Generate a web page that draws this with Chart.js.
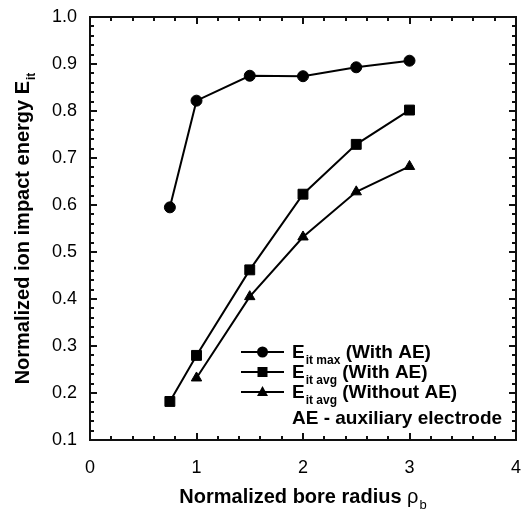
<!DOCTYPE html>
<html>
<head>
<meta charset="utf-8">
<script src="https://cdn.jsdelivr.net/npm/chart.js@4/dist/chart.umd.min.js"></script>
<style>
  html, body { margin: 0; padding: 0; background: #fff; }
</style>
</head>
<body>
<canvas id="chart" width="524" height="511"></canvas>
<script>
// ─── DATA ───────────────────────────────────────────
const radiusMaxWithAE    = [0.75, 1, 1.5, 2, 2.5, 3];
const energyMaxWithAE    = [0.595, 0.822, 0.875, 0.874, 0.893, 0.907];

const radiusAvgWithAE    = [0.75, 1, 1.5, 2, 2.5, 3];
const energyAvgWithAE    = [0.182, 0.280, 0.462, 0.623, 0.729, 0.802];

const radiusAvgWithoutAE = [1, 1.5, 2, 2.5, 3];
const energyAvgWithoutAE = [0.232, 0.405, 0.532, 0.628, 0.682];

const X_MIN = 0, X_MAX = 4, X_STEP = 1, X_MINOR = 0.2;
const Y_MIN = 0.1, Y_MAX = 1.0, Y_STEP = 0.1, Y_MINOR = 0.02;

const FONT = "'Liberation Sans', Arial, sans-serif";
const INK = '#101010';

const toPoints = (xs, ys) => xs.map((x, i) => ({ x, y: ys[i] }));

// ─── FRAME + INWARD TICKS ───────────────────────────
function drawFrame(chart) {
  const ctx = chart.ctx;
  const a = chart.chartArea;
  const xs = chart.scales.x, ys = chart.scales.y;
  ctx.save();
  ctx.globalAlpha = 1;
  ctx.globalCompositeOperation = 'source-over';
  ctx.fillStyle = INK;
  const n = Math.round((X_MAX - X_MIN) / X_MINOR);
  const nEvery = Math.round(X_STEP / X_MINOR);
  for (let i = 0; i <= n; i++) {
    const px = Math.round(xs.getPixelForValue(X_MIN + i * X_MINOR));
    const len = (i % nEvery === 0) ? 7 : 4;
    ctx.fillRect(px - 1, a.bottom - len, 2, len);
    ctx.fillRect(px - 1, a.top, 2, len);
  }
  const m = Math.round((Y_MAX - Y_MIN) / Y_MINOR);
  const mEvery = Math.round(Y_STEP / Y_MINOR);
  for (let i = 0; i <= m; i++) {
    const py = Math.round(ys.getPixelForValue(Y_MIN + i * Y_MINOR));
    const len = (i % mEvery === 0) ? 7 : 4;
    ctx.fillRect(a.left, py - 1, len, 2);
    ctx.fillRect(a.right - len, py - 1, len, 2);
  }
  const w = a.right - a.left, h = a.bottom - a.top;
  ctx.fillRect(a.left - 1, a.top - 1, w + 2, 2);
  ctx.fillRect(a.left - 1, a.bottom - 1, w + 2, 2);
  ctx.fillRect(a.left - 1, a.top - 1, 2, h + 2);
  ctx.fillRect(a.right - 1, a.top - 1, 2, h + 2);
  ctx.restore();
}

// text with subscript: main, sub, rest
function drawSubText(ctx, x, y, main, sub, rest, size) {
  const subSize = Math.round(size * 0.62);
  ctx.font = `bold ${size}px ${FONT}`;
  ctx.fillText(main, x, y);
  let w = ctx.measureText(main).width + 1;
  ctx.font = `bold ${subSize}px ${FONT}`;
  ctx.fillText(sub, x + w, y + size * 0.32);
  w += ctx.measureText(sub).width;
  if (rest) {
    ctx.font = `bold ${size}px ${FONT}`;
    ctx.fillText(' ' + rest, x + w, y);
  }
}

// small marker for the legend, same look as the chart points
function drawMarker(ctx, style, x, y) {
  ctx.beginPath();
  if (style === 'circle') {
    ctx.arc(x, y, 5.5, 0, Math.PI * 2);
  } else if (style === 'rect') {
    ctx.rect(x - 5, y - 5, 10, 10);
  } else {
    ctx.moveTo(x, y - 6);
    ctx.lineTo(x + 5.5, y + 4);
    ctx.lineTo(x - 5.5, y + 4);
    ctx.closePath();
  }
  ctx.fill();
}

// ─── TITLES + LEGEND ────────────────────────────────
function drawAnnotations(chart) {
  const ctx = chart.ctx;
  const a = chart.chartArea;
  ctx.save();
  ctx.fillStyle = '#000000';
  ctx.textBaseline = 'alphabetic';
  ctx.textAlign = 'left';

  // x title
  ctx.font = `bold 20px ${FONT}`;
  const t1 = 'Normalized bore radius ';
  const w1 = ctx.measureText(t1).width;
  ctx.font = `20px ${FONT}`;
  const wRho = ctx.measureText('\u03c1').width;
  ctx.font = `13px ${FONT}`;
  const wB = ctx.measureText('b').width;
  const sx = (a.left + a.right) / 2 - (w1 + wRho + wB + 1) / 2;
  ctx.font = `bold 20px ${FONT}`;
  ctx.fillText(t1, sx, 503);
  ctx.font = `20px ${FONT}`;
  ctx.fillText('\u03c1', sx + w1, 503);
  ctx.font = `13px ${FONT}`;
  ctx.fillText('b', sx + w1 + wRho + 1, 509);

  // y title
  ctx.save();
  ctx.translate(22, (a.top + a.bottom) / 2);
  ctx.rotate(-Math.PI / 2);
  ctx.font = `bold 20px ${FONT}`;
  const t2 = 'Normalized ion impact energy E';
  const w2 = ctx.measureText(t2).width;
  ctx.font = `bold 12px ${FONT}`;
  const wIt = ctx.measureText('it').width;
  drawSubText(ctx, -(w2 + wIt + 1) / 2, 7, t2, 'it', '', 20);
  ctx.restore();

  // legend
  const items = [
    { style: 'circle',   sub: 'it max', rest: '(With AE)' },
    { style: 'rect',     sub: 'it avg', rest: '(With AE)' },
    { style: 'triangle', sub: 'it avg', rest: '(Without AE)' },
  ];
  const lx0 = 241, lx1 = 284, tx = 292;
  const rows = [352, 372, 392];
  items.forEach((it, i) => {
    const yy = rows[i];
    ctx.fillRect(lx0, yy - 1, lx1 - lx0, 2);
    drawMarker(ctx, it.style, (lx0 + lx1) / 2, yy);
    drawSubText(ctx, tx, yy + 6, 'E', it.sub, it.rest, 19);
  });
  ctx.font = `bold 19px ${FONT}`;
  ctx.fillText('AE - auxiliary electrode', tx, 424);
  ctx.restore();
}

// ─── CHART ──────────────────────────────────────────
const lineStyle = (style, r) => ({
  borderColor: '#000', backgroundColor: '#000', borderWidth: 2,
  pointStyle: style, pointRadius: r, pointHoverRadius: r,
  pointBorderColor: '#000', pointBackgroundColor: '#000', pointBorderWidth: 1,
  tension: 0, fill: false,
});

const chart = new Chart(document.getElementById('chart'), {
  type: 'line',
  data: {
    datasets: [
      { label: 'Eit max (With AE)',    data: toPoints(radiusMaxWithAE, energyMaxWithAE),       ...lineStyle('circle', 5.5) },
      { label: 'Eit avg (With AE)',    data: toPoints(radiusAvgWithAE, energyAvgWithAE),       ...lineStyle('rect', 7) },
      { label: 'Eit avg (Without AE)', data: toPoints(radiusAvgWithoutAE, energyAvgWithoutAE), ...lineStyle('triangle', 6) },
    ]
  },
  options: {
    responsive: false, animation: false, devicePixelRatio: 1,
    layout: { padding: { top: 17, right: 7, left: 0, bottom: 0 } },
    plugins: { legend: { display: false }, tooltip: { enabled: false } },
    scales: {
      x: { type: 'linear', min: X_MIN, max: X_MAX,
           grid: { display: false, drawTicks: false }, border: { display: false },
           ticks: { stepSize: X_STEP, padding: 17, color: '#000', maxRotation: 0, font: { family: FONT, size: 18 } },
           afterFit: s => { s.height = 71; s.paddingLeft = 0; s.paddingRight = 0; } },
      y: { type: 'linear', min: Y_MIN, max: Y_MAX,
           grid: { display: false, drawTicks: false }, border: { display: false },
           ticks: { stepSize: Y_STEP, padding: 13, color: '#000', font: { family: FONT, size: 18 },
                    callback: v => v.toFixed(1) },
           afterFit: s => { s.width = 90; s.paddingTop = 0; s.paddingBottom = 0; } }
    }
  },
  plugins: [{ id: 'decorations', afterDraw(c) { drawAnnotations(c); drawFrame(c); } }]
});

// draw the frame again once the chart has settled
drawFrame(chart);
setTimeout(() => drawFrame(chart), 0);
requestAnimationFrame(() => drawFrame(chart));
</script>
</body>
</html>
